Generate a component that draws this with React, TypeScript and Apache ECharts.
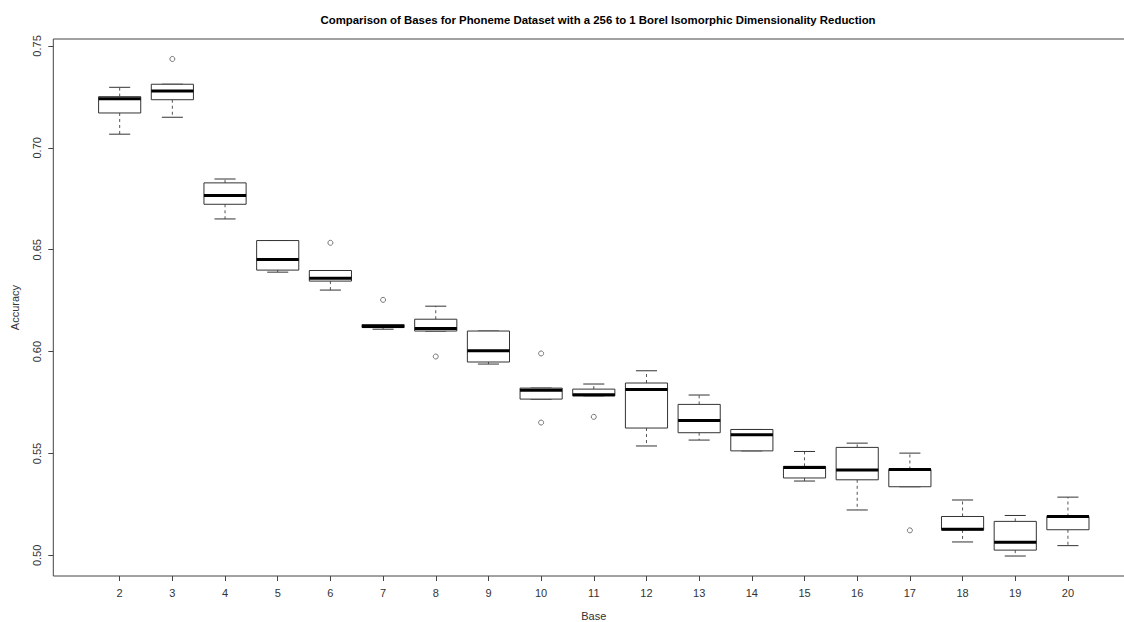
import React, { useEffect, useRef } from "react";
import * as echarts from "echarts";

const bases = [2, 3, 4, 5, 6, 7, 8, 9, 10, 11, 12, 13, 14, 15, 16, 17, 18, 19, 20];
const lowWhisker = [0.7067, 0.715, 0.6651, 0.639, 0.6302, 0.611, 0.6101, 0.5939, 0.5767, 0.5783, 0.5537, 0.5566, 0.5513, 0.5365, 0.5223, 0.5337, 0.5066, 0.4997, 0.5048];
const q1 = [0.7171, 0.7236, 0.6723, 0.64, 0.6346, 0.6118, 0.6101, 0.5949, 0.5767, 0.5783, 0.5625, 0.5602, 0.5513, 0.538, 0.5371, 0.5337, 0.5125, 0.5026, 0.5126];
const median = [0.7241, 0.7279, 0.6766, 0.6452, 0.636, 0.6123, 0.6113, 0.6004, 0.5811, 0.5788, 0.5814, 0.5662, 0.5592, 0.5432, 0.5419, 0.5422, 0.5128, 0.5064, 0.5191];
const q3 = [0.7251, 0.7312, 0.6828, 0.6545, 0.6398, 0.6133, 0.6159, 0.6101, 0.5821, 0.5816, 0.5846, 0.5741, 0.5618, 0.5437, 0.553, 0.5422, 0.5191, 0.5167, 0.5191];
const highWhisker = [0.7297, 0.7312, 0.6847, 0.6545, 0.6398, 0.6133, 0.6223, 0.6101, 0.5821, 0.5841, 0.5906, 0.5787, 0.5618, 0.551, 0.5551, 0.5502, 0.5272, 0.5196, 0.5286];

const outlierBase = [3, 6, 7, 8, 10, 10, 11, 17];
const outlierValue = [0.7436, 0.6534, 0.6254, 0.5976, 0.5991, 0.5652, 0.568, 0.5123];

const yTicks = [0.5, 0.55, 0.6, 0.65, 0.7, 0.75];
const yTickLabels = ["0.50", "0.55", "0.60", "0.65", "0.70", "0.75"];

const TITLE = "Comparison of Bases for Phoneme Dataset with a 256 to 1 Borel Isomorphic Dimensionality Reduction";

export default function App() {
  const ref = useRef<HTMLDivElement>(null);

  useEffect(() => {
    if (!ref.current) return;
    const chart = echarts.init(ref.current, null, { renderer: "svg" });

    const boxData = bases.map((b, i) => [b, lowWhisker[i], q1[i], median[i], q3[i], highWhisker[i]]);
    const outData = outlierBase.map((b, i) => [b, outlierValue[i]]);

    const font = "'Liberation Sans', Arial, sans-serif";
    const textColor = "#333";
    const lineColor = "#444";

    const renderItem = (params: any, api: any) => {
      const x = api.value(0);
      const lo = api.value(1);
      const a = api.value(2);
      const m = api.value(3);
      const b = api.value(4);
      const hi = api.value(5);
      const half = api.size([0.8, 0])[0] / 2;
      const cap = half / 2;
      const pLo = api.coord([x, lo]);
      const pA = api.coord([x, a]);
      const pM = api.coord([x, m]);
      const pB = api.coord([x, b]);
      const pHi = api.coord([x, hi]);
      const cx = pM[0];
      const dash = { stroke: "#555", lineWidth: 1, lineDash: [3, 3], fill: null };
      const solid = { stroke: "#333", lineWidth: 1, fill: null };
      const children: any[] = [];
      if (pHi[1] < pB[1] - 0.5) {
        children.push({ type: "line", shape: { x1: cx, y1: pB[1], x2: cx, y2: pHi[1] }, style: dash });
      }
      if (pLo[1] > pA[1] + 0.5) {
        children.push({ type: "line", shape: { x1: cx, y1: pA[1], x2: cx, y2: pLo[1] }, style: dash });
      }
      children.push({ type: "line", shape: { x1: cx - cap, y1: pHi[1], x2: cx + cap, y2: pHi[1] }, style: solid });
      children.push({ type: "line", shape: { x1: cx - cap, y1: pLo[1], x2: cx + cap, y2: pLo[1] }, style: solid });
      children.push({
        type: "rect",
        shape: { x: cx - half, y: pB[1], width: half * 2, height: Math.max(pA[1] - pB[1], 0.5) },
        style: { stroke: "#333", lineWidth: 1, fill: "#fff" },
      });
      children.push({
        type: "line",
        shape: { x1: cx - half, y1: pM[1], x2: cx + half, y2: pM[1] },
        style: { stroke: "#000", lineWidth: 3, fill: null },
      });
      return { type: "group", children };
    };

    chart.setOption({
      animation: false,
      backgroundColor: "#fff",
      title: {
        text: TITLE,
        left: 593,
        top: 9,
        textAlign: "center",
        textStyle: { fontFamily: font, fontSize: 11.4, fontWeight: "bold", color: "#000" },
      },
      grid: {
        left: 53.3,
        top: 39,
        width: 1081,
        height: 537,
        show: true,
        borderColor: lineColor,
        borderWidth: 1,
        backgroundColor: "transparent",
        containLabel: false,
        outerBoundsMode: "none",
      },
      xAxis: {
        type: "value",
        min: 0.74,
        max: 21.26,
        splitLine: { show: false },
        axisLine: { show: false },
        axisTick: { show: true, length: 5, customValues: bases, lineStyle: { color: lineColor } },
        axisLabel: {
          customValues: bases,
          margin: 11,
          fontFamily: font,
          fontSize: 11,
          color: textColor,
        },
        name: "Base",
        nameLocation: "middle",
        nameGap: 34,
        nameTextStyle: { fontFamily: font, fontSize: 11, color: textColor },
      },
      yAxis: {
        type: "value",
        min: 0.4899,
        max: 0.7534,
        splitLine: { show: false },
        axisLine: { show: false },
        axisTick: { show: true, length: 5, customValues: yTicks, lineStyle: { color: lineColor } },
        axisLabel: {
          customValues: yTicks,
          rotate: 90,
          margin: 11,
          fontFamily: font,
          fontSize: 11,
          color: textColor,
          formatter: (v: number) => {
            const i = yTicks.findIndex((t) => Math.abs(t - v) < 1e-9);
            return i >= 0 ? yTickLabels[i] : "";
          },
        },
        name: "Accuracy",
        nameLocation: "middle",
        nameGap: 33,
        nameRotate: 90,
        nameTextStyle: { fontFamily: font, fontSize: 11, color: textColor },
      },
      series: [
        {
          type: "custom",
          renderItem,
          data: boxData,
          encode: { x: 0, y: [1, 2, 3, 4, 5] },
          clip: false,
          z: 2,
        },
        {
          type: "scatter",
          data: outData,
          symbol: "circle",
          symbolSize: 5,
          itemStyle: { color: "#fff", borderColor: "#555", borderWidth: 1 },
          z: 3,
        },
      ],
    });

    return () => chart.dispose();
  }, []);

  return (
    <div
      ref={ref}
      style={{ position: "absolute", left: 0, top: 0, width: 1124, height: 622 }}
    />
  );
}
